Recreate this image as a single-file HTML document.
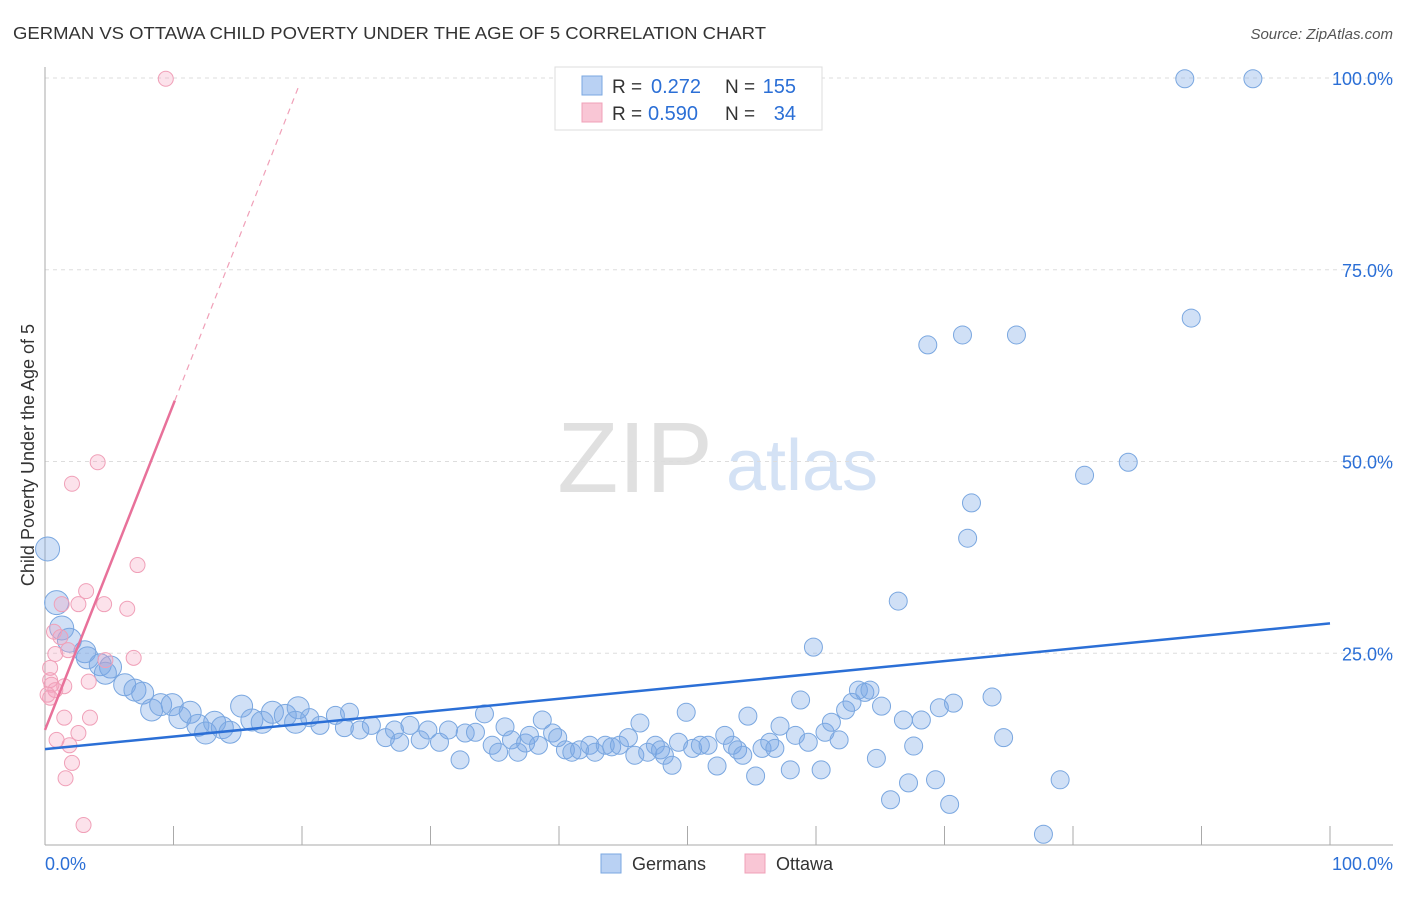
<!DOCTYPE html>
<html><head><meta charset="utf-8">
<style>
body{margin:0;background:#fff;font-family:"Liberation Sans",sans-serif;}
svg text{font-family:"Liberation Sans",sans-serif;}
</style></head>
<body>
<svg id="chart" width="1406" height="892" xmlns="http://www.w3.org/2000/svg">
<text x="13" y="39" font-size="17.5" fill="#333" textLength="753" lengthAdjust="spacingAndGlyphs">GERMAN VS OTTAWA CHILD POVERTY UNDER THE AGE OF 5 CORRELATION CHART</text>
<text x="1393" y="39" font-size="15" fill="#555" text-anchor="end" font-style="italic">Source: ZipAtlas.com</text>
<g>
<text x="635" y="492" font-size="100" fill="#e0e0e0" text-anchor="middle" font-family="Liberation Serif,serif">ZIP</text>
<text x="802" y="490" font-size="72" fill="#d4e2f5" text-anchor="middle">atlas</text>
</g>
<g id="grid"></g>
<g id="axes"></g>
<g id="marks"></g>
<g>
<rect x="555" y="67" width="267" height="63" fill="#fff" stroke="#ddd"/>
<rect x="582" y="76" width="20" height="19" fill="#b9d1f3" stroke="#7aa7e0"/>
<rect x="582" y="103" width="20" height="19" fill="#f9c6d5" stroke="#f0a0b8"/>
<text x="612" y="93" font-size="19" fill="#333">R =</text>
<text x="651" y="93" font-size="20" fill="#2b6fd6">0.272</text>
<text x="725" y="93" font-size="19" fill="#333">N =</text>
<text x="796" y="93" font-size="20" fill="#2b6fd6" text-anchor="end">155</text>
<text x="612" y="120" font-size="19" fill="#333">R =</text>
<text x="648" y="120" font-size="20" fill="#2b6fd6">0.590</text>
<text x="725" y="120" font-size="19" fill="#333">N =</text>
<text x="796" y="120" font-size="20" fill="#2b6fd6" text-anchor="end">34</text>
</g>
<g>
<rect x="601" y="854" width="20" height="19" fill="#b9d1f3" stroke="#7aa7e0"/>
<text x="632" y="870" font-size="18" fill="#333">Germans</text>
<rect x="745" y="854" width="20" height="19" fill="#f9c6d5" stroke="#f0a0b8"/>
<text x="776" y="870" font-size="18" fill="#333">Ottawa</text>
</g>
<text transform="translate(34,455) rotate(-90)" font-size="18" fill="#333" text-anchor="middle">Child Poverty Under the Age of 5</text>
</svg>
<script>
const yTicks=[25,50,75,100];
const yTickLabels=["25.0%","50.0%","75.0%","100.0%"];
const xTicks=[0,10,20,30,40,50,60,70,80,90,100];
const xTickLabels=["0.0%","100.0%"];
const germansX=[0.2,0.9,1.3,1.9,3.1,3.3,4.3,5.1,4.7,6.2,7.0,7.6,8.3,9.0,9.9,10.5,11.3,11.9,12.5,13.2,13.8,14.4,15.3,16.1,16.9,17.7,18.7,19.7,19.5,20.6,21.4,22.6,23.3,23.7,24.5,25.4,26.5,27.2,27.6,28.4,29.2,29.8,30.7,31.4,32.3,32.7,33.5,34.2,34.8,35.3,35.8,36.3,36.8,37.4,37.7,38.4,38.7,39.5,39.9,40.5,41.0,41.6,42.4,42.8,43.6,44.1,44.7,45.4,45.9,46.3,46.9,47.5,47.9,48.2,48.8,49.3,49.9,50.4,51.0,51.6,52.3,52.9,53.5,53.9,54.3,54.7,55.3,55.8,56.4,56.8,57.2,58.0,58.4,58.8,59.4,59.8,60.4,60.7,61.2,61.8,62.3,62.8,63.3,63.8,64.2,64.7,65.1,65.8,66.4,66.8,67.2,67.6,68.2,68.7,69.3,69.6,70.4,70.7,71.4,71.8,72.1,73.7,74.6,75.6,77.7,79.0,80.9,84.3,88.7,89.2,94.0];
const germansY=[38.6,31.6,28.3,26.7,25.2,24.4,23.5,23.2,22.4,20.9,20.2,19.8,17.6,18.3,18.3,16.6,17.3,15.6,14.6,16.0,15.3,14.7,18.1,16.3,16.0,17.3,16.9,17.9,16.0,16.6,15.6,16.9,15.3,17.3,15.0,15.6,14.0,15.0,13.4,15.6,13.7,15.0,13.4,15.0,11.1,14.6,14.7,17.1,13.0,12.1,15.4,13.7,12.1,13.3,14.3,13.0,16.3,14.6,14.0,12.4,12.1,12.4,13.0,12.1,13.0,12.8,13.0,14.0,11.7,15.9,12.1,13.0,12.4,11.7,10.4,13.4,17.3,12.6,13.0,13.0,10.3,14.3,13.0,12.4,11.7,16.8,9.0,12.6,13.4,12.6,15.5,9.8,14.3,18.9,13.4,25.8,9.8,14.7,16.0,13.7,17.6,18.6,20.2,19.9,20.2,11.3,18.1,5.9,31.8,16.3,8.1,12.9,16.3,65.2,8.5,17.9,5.3,18.5,66.5,40.0,44.6,19.3,14.0,66.5,1.4,8.5,48.2,49.9,99.9,68.7,99.9];
const ottawaX=[9.4,4.1,2.1,7.2,3.2,1.3,2.6,4.6,6.4,0.7,1.2,1.8,0.8,4.7,6.9,0.4,0.4,3.4,0.5,0.8,1.5,0.4,1.5,3.5,2.6,0.9,1.9,2.1,1.6,3.0,0.2];
const ottawaY=[99.9,49.9,47.1,36.5,33.1,31.4,31.4,31.4,30.8,27.8,27.1,25.4,24.9,24.1,24.4,23.1,21.5,21.3,20.9,20.2,20.7,19.2,16.6,16.6,14.6,13.7,13.0,10.7,8.7,2.6,19.6];
const germansTrend=[12.5,28.9];
const ottawaTrend=[15.0,4.25];
const NS="http://www.w3.org/2000/svg";
const X=v=>45+v*12.85, Y=v=>845-v*7.67;
function mk(p,t,a){const e=document.createElementNS(NS,t);for(const k in a)e.setAttribute(k,a[k]);p.appendChild(e);return e;}
const grid=document.getElementById('grid'),axes=document.getElementById('axes'),marks=document.getElementById('marks');
yTicks.forEach((v,i)=>{
 const l=mk(grid,'line',{x1:45,x2:1393,y1:Y(v),y2:Y(v),stroke:'#ddd','stroke-dasharray':'4,4'});
 
 
 const t=mk(axes,'text',{x:1393,y:Y(v)+7,'font-size':18,fill:'#2b6fd6','text-anchor':'end'});t.textContent=yTickLabels[i];
 
 
});
mk(axes,'line',{x1:45,x2:45,y1:67,y2:845,stroke:'#aaa'});
mk(axes,'line',{x1:45,x2:1393,y1:845,y2:845,stroke:'#aaa'});
xTicks.forEach(v=>{const t=mk(axes,'line',{x1:X(v),x2:X(v),y1:826,y2:845,stroke:'#aaa'});
 
 });
const xl0=mk(axes,'text',{x:45,y:870,'font-size':18,fill:'#2b6fd6'});xl0.textContent=xTickLabels[0];


const xl1=mk(axes,'text',{x:1393,y:870,'font-size':18,fill:'#2b6fd6','text-anchor':'end'});xl1.textContent=xTickLabels[1];


germansX.forEach((x,i)=>{const r=x<2?12:(x<20?11:9);
 const c=mk(marks,'circle',{cx:X(x),cy:Y(germansY[i]),r:r,fill:'rgba(120,165,230,0.35)',stroke:'#7aa7e0','stroke-width':1});
 
 });
ottawaX.forEach((x,i)=>{
 const c=mk(marks,'circle',{cx:X(x),cy:Y(ottawaY[i]),r:7.5,fill:'rgba(245,160,190,0.3)',stroke:'#f0a0b8','stroke-width':1});
 
 });
const gl=mk(marks,'line',{x1:X(0),y1:Y(germansTrend[0]),x2:X(100),y2:Y(germansTrend[1]),stroke:'#2b6fd6','stroke-width':2.5});


const oy=x=>ottawaTrend[0]+ottawaTrend[1]*x;
const ol=mk(marks,'line',{x1:X(0),y1:Y(oy(0)),x2:X(10.1),y2:Y(oy(10.1)),stroke:'#e8719a','stroke-width':2.5});


const od=mk(marks,'line',{x1:X(10.1),y1:Y(oy(10.1)),x2:X(19.7),y2:Y(oy(19.7)),stroke:'#f0a0b8','stroke-width':1.2,'stroke-dasharray':'6,5'});


</script>
</body></html>
